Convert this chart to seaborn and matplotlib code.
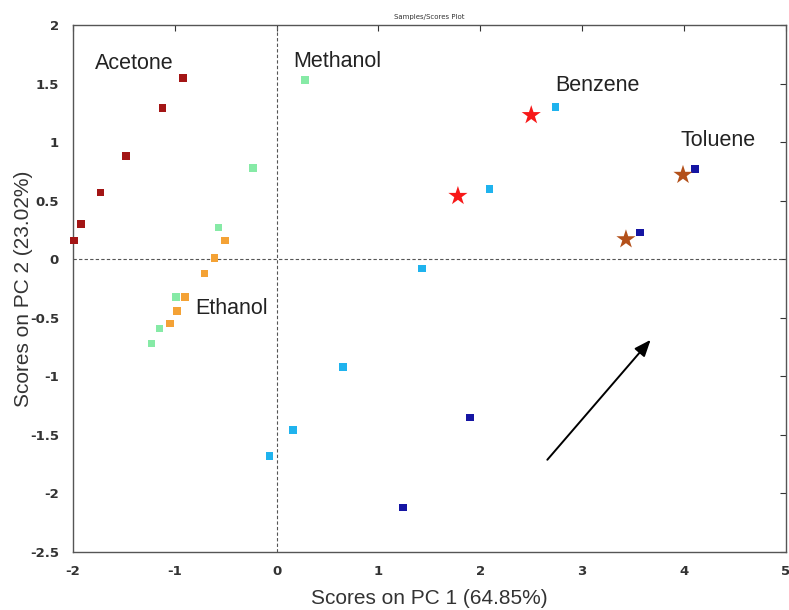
import matplotlib
matplotlib.use('Agg')
import matplotlib.pyplot as plt
import seaborn as sns
import pandas as pd

# scores
acetona_x = [-1.99, -1.92, -1.73, -1.48, -1.12, -0.92]
acetona_y = [0.16, 0.30, 0.57, 0.88, 1.29, 1.55]
metanol_x = [0.28, -0.23, -0.57, -0.99, -1.15, -1.23]
metanol_y = [1.53, 0.78, 0.27, -0.32, -0.59, -0.72]
etanol_x = [-0.51, -0.61, -0.71, -0.90, -0.98, -1.05]
etanol_y = [0.16, 0.01, -0.12, -0.32, -0.44, -0.55]
benzeno_x = [2.74, 2.09, 1.43, 0.65, 0.16, -0.07]
benzeno_y = [1.30, 0.60, -0.08, -0.92, -1.46, -1.68]
tolueno_x = [4.11, 3.57, 1.90, 1.24]
tolueno_y = [0.77, 0.23, -1.35, -2.12]

estrela_benzeno_x = [2.50, 1.78]
estrela_benzeno_y = [1.23, 0.54]
estrela_tolueno_x = [3.99, 3.43]
estrela_tolueno_y = [0.72, 0.17]

rotulos = ['Acetone', 'Methanol', 'Benzene', 'Toluene', 'Ethanol']
rotulos_x = [-1.78, 0.16, 2.74, 3.97, -0.80]
rotulos_y = [1.67, 1.69, 1.48, 1.01, -0.42]

seta_inicio = (2.64, -1.73)
seta_fim = (3.69, -0.67)

cores = {'Acetone': '#a31515', 'Methanol': '#86eaa6', 'Ethanol': '#f4a235',
         'Benzene': '#1fb3ee', 'Toluene': '#1515a3'}
cores_estrela = {'Benzene*': '#f71818', 'Toluene*': '#b3501a'}

grupos = []
for nome, xs, ys in [('Acetone', acetona_x, acetona_y), ('Methanol', metanol_x, metanol_y),
                     ('Ethanol', etanol_x, etanol_y), ('Benzene', benzeno_x, benzeno_y),
                     ('Toluene', tolueno_x, tolueno_y)]:
    grupos.append(pd.DataFrame({'PC1': xs, 'PC2': ys, 'Grupo': nome}))
df = pd.concat(grupos, ignore_index=True)

df_estrela = pd.concat([
    pd.DataFrame({'PC1': estrela_benzeno_x, 'PC2': estrela_benzeno_y, 'Grupo': 'Benzene*'}),
    pd.DataFrame({'PC1': estrela_tolueno_x, 'PC2': estrela_tolueno_y, 'Grupo': 'Toluene*'}),
], ignore_index=True)

sns.set_style('white')
fig = plt.figure(figsize=(7.89, 6.10), dpi=100)
ax = fig.add_axes([0.0925, 0.095, 0.9035, 0.864])

ax.axhline(0, color='#555555', linestyle=(0, (3, 2)), linewidth=0.8, zorder=1)
ax.axvline(0, color='#555555', linestyle=(0, (3, 2)), linewidth=0.8, zorder=1)

sns.scatterplot(data=df, x='PC1', y='PC2', hue='Grupo', palette=cores, marker='s',
                s=30, linewidth=0, legend=False, ax=ax, zorder=3, clip_on=False)
sns.scatterplot(data=df_estrela, x='PC1', y='PC2', hue='Grupo', palette=cores_estrela, marker='*',
                s=210, linewidth=0, legend=False, ax=ax, zorder=4)

for txt, tx, ty in zip(rotulos, rotulos_x, rotulos_y):
    ax.text(tx, ty, txt, fontsize=15.5, color='#222222', va='center', ha='left',
            family='Liberation Sans')

ax.annotate('', xy=seta_fim, xytext=seta_inicio,
            arrowprops=dict(arrowstyle='-|>,head_length=1.0,head_width=0.4', color='black', lw=1.4))

ax.set_xlim(-2, 5)
ax.set_ylim(-2.5, 2)
ax.set_xticks([-2, -1, 0, 1, 2, 3, 4, 5])
ax.set_yticks([-2.5, -2, -1.5, -1, -0.5, 0, 0.5, 1, 1.5, 2])
ax.set_xticklabels(['-2', '-1', '0', '1', '2', '3', '4', '5'])
ax.set_yticklabels(['-2.5', '-2', '-1.5', '-1', '-0.5', '0', '0.5', '1', '1.5', '2'])
ax.tick_params(direction='in', length=4, width=0.8, top=True, right=True, labelsize=9.5,
               colors='#333333', pad=9)
ax.tick_params(axis='y', pad=10)
for lab in ax.get_xticklabels() + ax.get_yticklabels():
    lab.set_fontweight('bold')

for sp in ax.spines.values():
    sp.set_color('#555555')
    sp.set_linewidth(1.0)

ax.set_xlabel('Scores on PC 1 (64.85%)', fontsize=15, color='#333333', family='Liberation Sans', labelpad=8)
ax.set_ylabel('Scores on PC 2 (23.02%)', fontsize=15, color='#333333', family='Liberation Sans', labelpad=-2)
ax.set_title('Samples/Scores Plot', fontsize=5, color='#333333', pad=4)

plt.savefig('out.png', dpi=100)
